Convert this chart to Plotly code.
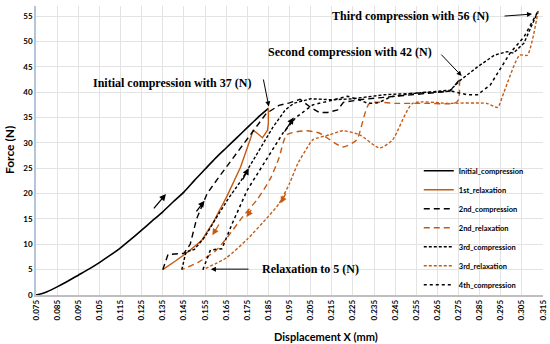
import plotly.graph_objects as go

# ---------------- data ----------------
init_x = [0.075, 0.078, 0.080, 0.085, 0.090, 0.095, 0.100, 0.105, 0.110, 0.115, 0.120,
          0.125, 0.130, 0.135, 0.140, 0.145, 0.150, 0.155, 0.160, 0.165, 0.170, 0.175,
          0.180, 0.185]
init_y = [0.0, 0.3, 0.6, 1.6, 2.7, 3.9, 5.1, 6.4, 7.8, 9.3, 11.0,
          12.8, 14.6, 16.4, 18.4, 20.3, 22.6, 24.8, 27.0, 29.0, 31.0, 33.0,
          35.0, 36.8]

rel1_x = [0.185, 0.185, 0.1846, 0.1822, 0.1789, 0.1777, 0.1765, 0.1718, 0.1653, 0.1587,
          0.1535, 0.147, 0.141, 0.135]
rel1_y = [36.8, 34.0, 32.5, 31.0, 32.2, 32.4, 30.8, 25.2, 19.4, 14.2,
          10.8, 8.5, 6.7, 5.0]

comp2_x = [0.135, 0.1375, 0.145, 0.148, 0.151, 0.156, 0.162, 0.170, 0.178, 0.184, 0.190,
           0.195, 0.200, 0.205, 0.209, 0.213, 0.2178, 0.2205, 0.230, 0.245, 0.260, 0.271, 0.2755]
comp2_y = [5.0, 8.0, 8.2, 10.0, 15.0, 20.0, 23.5, 28.0, 32.5, 35.8, 37.4,
           37.9, 38.6, 37.0, 36.0, 36.0, 36.5, 38.0, 38.6, 39.2, 39.8, 40.2, 42.5]

rel2_x = [0.2755, 0.275, 0.273, 0.260, 0.245, 0.2329, 0.2268, 0.2202, 0.2093, 0.2031,
          0.1937, 0.190, 0.186, 0.180, 0.173, 0.1656, 0.160, 0.152, 0.144]
rel2_y = [42.5, 38.5, 37.8, 37.8, 37.8, 37.8, 30.6, 29.2, 31.9, 32.4,
          31.6, 27.0, 23.0, 19.0, 15.5, 11.4, 8.7, 6.5, 5.0]

comp3_x = [0.144, 0.146, 0.150, 0.155, 0.160, 0.166, 0.172, 0.180, 0.187, 0.193, 0.197,
           0.205, 0.215, 0.225, 0.240, 0.255, 0.271, 0.276, 0.284, 0.292, 0.298, 0.301,
           0.306, 0.3127]
comp3_y = [5.0, 8.5, 9.0, 11.5, 15.0, 19.0, 22.5, 28.0, 33.0, 36.5, 37.8,
           38.7, 38.5, 38.7, 39.5, 39.8, 40.4, 42.4, 45.0, 47.3, 48.0, 47.7,
           49.7, 56.0]

rel3_x = [0.3127, 0.3076, 0.3039, 0.2965, 0.2935, 0.2883, 0.270, 0.2533, 0.2438, 0.2376,
          0.2282, 0.2202, 0.214, 0.206, 0.203, 0.199, 0.195, 0.190, 0.185, 0.175, 0.165, 0.154]
rel3_y = [56.0, 47.3, 47.3, 40.0, 37.0, 37.8, 37.8, 37.8, 30.6, 29.0,
          31.6, 32.4, 31.6, 30.6, 28.8, 26.0, 22.0, 18.0, 15.5, 11.0, 7.3, 5.0]

comp4_x = [0.154, 0.1576, 0.163, 0.168, 0.175, 0.181, 0.186, 0.192, 0.198, 0.203, 0.206,
           0.213, 0.2225, 0.228, 0.232, 0.237, 0.243, 0.2535, 0.265, 0.272, 0.279, 0.284,
           0.290, 0.2946, 0.2994, 0.306, 0.3127]
comp4_y = [5.0, 8.9, 9.1, 14.2, 20.7, 24.6, 28.0, 32.0, 35.0, 36.5, 37.5,
           38.2, 39.2, 38.5, 37.8, 37.9, 39.1, 39.8, 40.0, 40.2, 39.5, 39.5,
           41.4, 44.4, 47.7, 50.9, 56.0]

x_ticks = [round(0.075 + 0.01 * i, 3) for i in range(25)]
y_ticks = list(range(0, 60, 5))

BROWN = "#C55A11"
BLACK = "#000000"

fig = go.Figure()

series = [
    ("Initial_compression", init_x, init_y, BLACK, "solid", 1.6, "spline"),
    ("1st_relaxation", rel1_x, rel1_y, BROWN, "solid", 1.4, "linear"),
    ("2nd_compression", comp2_x, comp2_y, BLACK, "6px,4px", 1.4, "linear"),
    ("2nd_relaxation", rel2_x, rel2_y, BROWN, "6px,4px", 1.4, "spline"),
    ("3rd_compression", comp3_x, comp3_y, BLACK, "3px,2px", 1.4, "linear"),
    ("3rd_relaxation", rel3_x, rel3_y, BROWN, "3px,2px", 1.4, "spline"),
    ("4th_compression", comp4_x, comp4_y, BLACK, "dot", 1.5, "linear"),
]
for name, xs, ys, col, dash, w, shp in series:
    line = dict(color=col, dash=dash, width=w, shape=shp)
    if shp == "spline":
        line["smoothing"] = 0.6
    fig.add_trace(go.Scatter(x=xs, y=ys, mode="lines", name="<b>" + name + "</b>",
                             line=line))

ann = []
serif = dict(family="Liberation Serif", size=12, color="#000000")
texts = [
    ("Initial compression with 37 (N)", 0.1394, 41.8, "center"),
    ("Second compression with 42 (N)", 0.2236, 47.9, "center"),
    ("Third compression with 56 (N)", 0.2525, 55.0, "center"),
    ("Relaxation to 5 (N)", 0.1810, 5.1, "left"),
]
for t, x, y, xa in texts:
    ann.append(dict(x=x, y=y, xref="x", yref="y", text="<b>" + t + "</b>", showarrow=False,
                    font=serif, xanchor=xa, yanchor="middle"))

# callout arrows (head x,y ; tail ax,ay)
callouts = [
    (0.1852, 37.2, 0.1825, 42.8),
    (0.2765, 43.2, 0.2662, 47.7),
    (0.3098, 55.4, 0.2961, 55.0),
    (0.1578, 5.1, 0.1763, 5.1),
]
for x, y, ax, ay in callouts:
    ann.append(dict(x=x, y=y, ax=ax, ay=ay, xref="x", yref="y", axref="x", ayref="y",
                    text="", showarrow=True, arrowhead=2, arrowsize=1, arrowwidth=1,
                    arrowcolor="#000000"))

# small direction arrows on the curves
dir_black = [
    (0.1365, 19.9, 0.1302, 16.8),
    (0.1548, 18.6, 0.1504, 16.2),
    (0.1757, 25.0, 0.1725, 22.5),
    (0.1970, 35.0, 0.1922, 31.9),
]
for x, y, ax, ay in dir_black:
    ann.append(dict(x=x, y=y, ax=ax, ay=ay, xref="x", yref="y", axref="x", ayref="y",
                    text="", showarrow=True, arrowhead=2, arrowsize=1, arrowwidth=1.3,
                    arrowcolor="#000000"))
dir_brown = [
    (0.1585, 11.8, 0.1620, 14.2),
    (0.1746, 15.4, 0.1774, 17.1),
    (0.1908, 18.1, 0.1936, 20.3),
]
for x, y, ax, ay in dir_brown:
    ann.append(dict(x=x, y=y, ax=ax, ay=ay, xref="x", yref="y", axref="x", ayref="y",
                    text="", showarrow=True, arrowhead=2, arrowsize=1, arrowwidth=1.3,
                    arrowcolor=BROWN))

sans = "Lato"
ann.append(dict(x=0.572, y=-0.142, xref="paper", yref="paper", showarrow=False,
                text="<b>Displacement X (mm)</b>", font=dict(family=sans, size=11, color="#000"),
                xanchor="center", yanchor="middle"))
ann.append(dict(x=-0.051, y=0.502, xref="paper", yref="paper", showarrow=False,
                text="<b>Force (N)</b>", textangle=-90, font=dict(family=sans, size=12, color="#000"),
                xanchor="center", yanchor="middle"))

fig.update_layout(
    width=550, height=344,
    margin=dict(l=36, r=7, t=6, b=49),
    paper_bgcolor="white", plot_bgcolor="white",
    showlegend=True,
    legend=dict(x=0.755, y=0.48, xanchor="left", yanchor="top",
                font=dict(family=sans, size=7.5, color="#000"),
                bgcolor="rgba(255,255,255,0)", tracegroupgap=0, itemwidth=30),
    annotations=ann,
)
fig.update_xaxes(range=[0.075, 0.315], tickmode="array", tickvals=x_ticks,
                 ticktext=["<b>%.3f</b>" % v for v in x_ticks], tickangle=-90,
                 tickfont=dict(family=sans, size=8, color="#000"),
                 showgrid=True, gridcolor="#e3e3e3", gridwidth=1,
                 showline=True, linecolor="#bfbfbf", linewidth=1.5, zeroline=False,
                 ticks="", automargin=False)
fig.update_yaxes(range=[0, 57], tickmode="array", tickvals=y_ticks,
                 ticktext=["<b>%d</b>" % v for v in y_ticks],
                 tickfont=dict(family=sans, size=8, color="#000"),
                 showgrid=True, gridcolor="#e3e3e3", gridwidth=1,
                 showline=True, linecolor="#b4c4dc", linewidth=1.5, zeroline=False,
                 ticks="", automargin=False)

fig.write_html("out.html", config={"displayModeBar": False},
               post_script="document.body.style.margin='0';document.body.style.overflow='hidden';")
